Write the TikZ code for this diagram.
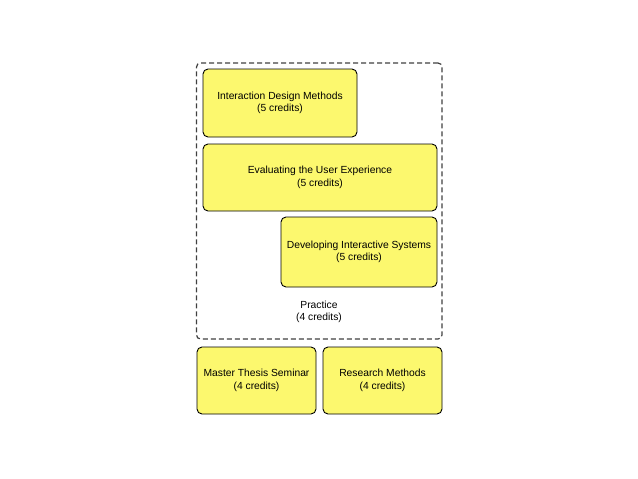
\documentclass[tikz,border=0pt]{standalone}
\usepackage{fontspec}
\setmainfont{Liberation Sans}
\definecolor{course}{RGB}{252,248,110}
\begin{document}
\begin{tikzpicture}[x=1pt,y=-1pt,
    coursebox/.style={draw=black,line width=0.9pt,fill=course,rounded corners=5pt,
      align=center,inner sep=0pt,font=\fontsize{10.3}{12.4}\selectfont},
    groupbox/.style={draw=black!75,line width=1.2pt,dash pattern=on 5pt off 3pt,
      rounded corners=4pt,inner sep=0pt}]
      \useasboundingbox (0,0) rectangle (638,479);
      \node[groupbox,minimum width=245.5pt,minimum height=276pt] (practice) at (319.25,201) {};
      \draw
        (280,103) node[coursebox,minimum width=154pt,minimum height=68pt] (idm)
          {Interaction Design Methods\\(5 credits)}
        (320,177.5) node[coursebox,minimum width=234pt,minimum height=67pt] (eux)
          {Evaluating the User Experience\\(5 credits)}
        (359,252) node[coursebox,minimum width=156pt,minimum height=70pt] (dis)
          {Developing Interactive Systems\\(5 credits)}
        (256.5,380.5) node[coursebox,minimum width=119pt,minimum height=67pt] (mts)
          {Master Thesis Seminar\\(4 credits)}
        (382.5,380.5) node[coursebox,minimum width=119pt,minimum height=67pt] (rm)
          {Research Methods\\(4 credits)};
      \node[align=center,inner sep=0pt,font=\fontsize{10.3}{12.4}\selectfont] (practicelabel)
        at (319,312) {Practice\\(4 credits)};
    \end{tikzpicture}
\end{document}
